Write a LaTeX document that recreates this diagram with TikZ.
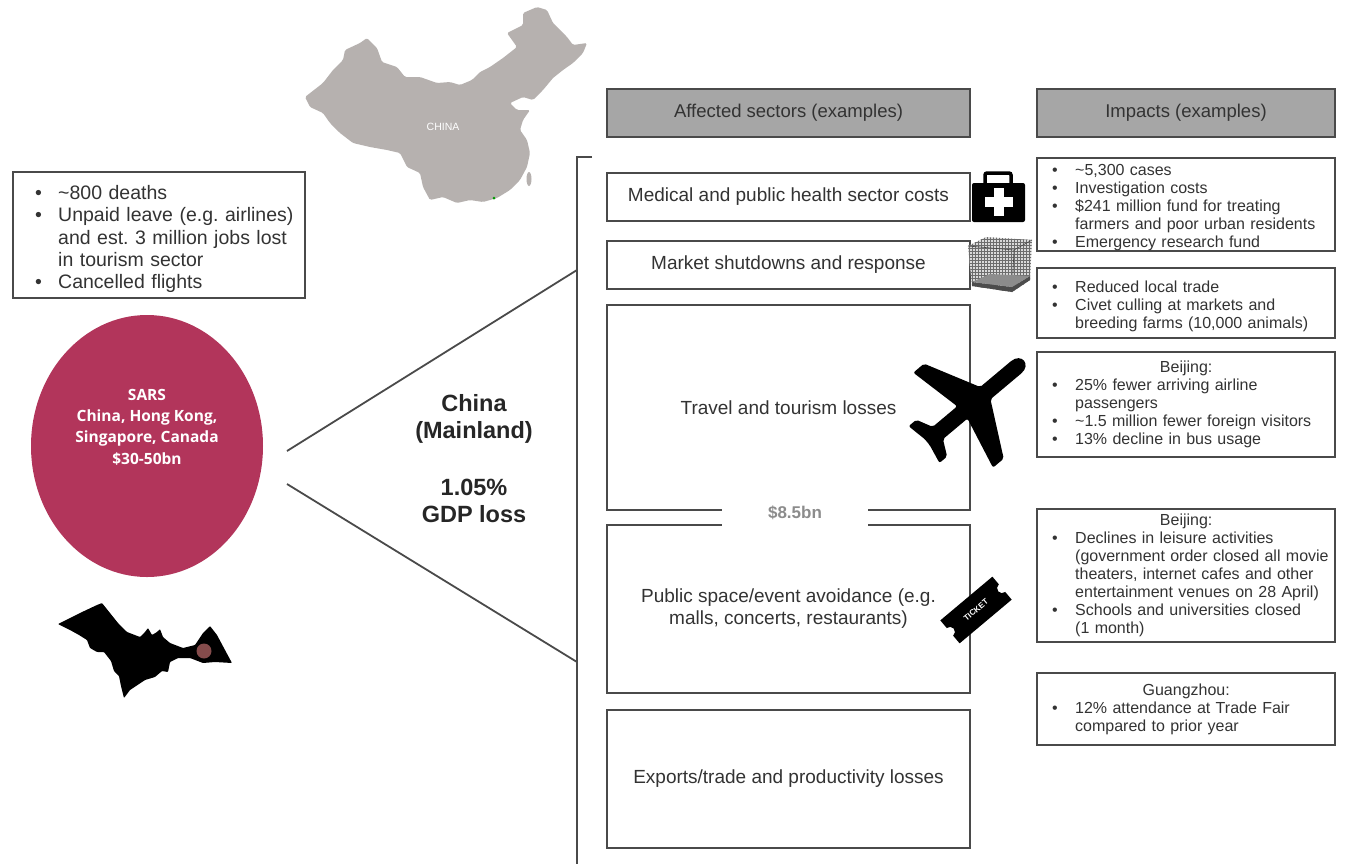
\documentclass[tikz,border=0pt]{standalone}
\usepackage{fontspec}
\setmainfont{Liberation Sans}
\newfontfamily\ovalfont{Open Sans}
\usetikzlibrary{shapes.geometric,patterns}

\definecolor{ink}{HTML}{333333}
\definecolor{rim}{HTML}{4A4A4A}
\definecolor{headfill}{HTML}{A6A6A6}
\definecolor{sars}{HTML}{B2355B}
\definecolor{landgray}{HTML}{B6B1AF}
\definecolor{costgray}{HTML}{8C8C8C}

% bullet item with hanging indent
\newcommand\bul[1]{\par\hangindent=23pt\hangafter=1\noindent\hbox to 23pt{\textbullet\hfil}#1}
% closes the last paragraph while its indentation is still in force
\newcommand\bullist[1]{\frenchspacing#1\par}

\begin{document}
\begin{tikzpicture}[x=1pt,y=-1pt,
  box/.style={draw=rim, line width=1.6pt, inner sep=0pt, text=ink},
  sector/.style={box, minimum width=363pt, align=center, font=\fontsize{19}{22}\selectfont},
  head/.style={box, fill=headfill, minimum height=48pt, font=\fontsize{18.5}{22}\selectfont},
  impact/.style={box, minimum width=298pt},
  impacttext/.style={anchor=west, inner sep=0pt, text=ink, text width=281pt, align=left, font=\fontsize{16}{18}\selectfont},
  bigword/.style={align=center, text=black!85, font=\bfseries\fontsize{23.5}{27}\selectfont},
  rule/.style={draw=rim, line width=1.8pt}
]
\useasboundingbox (0,0) rectangle (1345,863);
\fill[white] (0,0) rectangle (1345,863);

% ---- map of China ----
\fill[landgray, rounded corners=1.5pt] (305,97) -- (323,83) -- (333,70) -- (343,60) -- (345,50) -- (360,43) -- (367,38) -- (377,48) -- (382,62) -- (397,67) -- (405,77) -- (420,77) -- (437,83) -- (450,82) -- (460,85) -- (472,80) -- (480,72) -- (490,67) -- (503,58) -- (517,47) -- (507,33) -- (523,25) -- (523,13) -- (537,7) -- (547,10) -- (553,23) -- (567,37) -- (573,45) -- (587,43) -- (583,53) -- (573,63) -- (563,70) -- (553,78) -- (543,90) -- (533,100) -- (523,97) -- (510,103) -- (517,110) -- (530,110) -- (523,120) -- (520,130) -- (527,140) -- (530,153) -- (527,167) -- (520,180) -- (510,190) -- (497,198) -- (483,202) -- (470,200) -- (457,203) -- (443,197) -- (430,200) -- (423,187) -- (420,173) -- (407,167) -- (400,153) -- (387,150) -- (370,147) -- (353,143) -- (340,133) -- (330,123) -- (323,113) -- (310,107) -- cycle;
\fill[landgray] (529,179) ellipse (2.5 and 7);
\fill[green!60!black] (494,198) circle (1.5);
\node[white, font=\fontsize{10.5}{12}\selectfont] (chinaword) at (443,127) {CHINA};

% ---- left side ----
\node[box, minimum width=292pt, minimum height=126pt] (tollbox) at (159,235) {};
\node[impacttext, text width=268pt, font=\fontsize{19.5}{22.25}\selectfont] (tolltext) at (35,235)
  {\bullist{\bul{\textasciitilde800 deaths}\bul{Unpaid leave (e.g. airlines)\break and est. 3 million jobs lost\break in tourism sector}\bul{Cancelled flights}}};

\node[ellipse, fill=sars, minimum width=232pt, minimum height=262pt, inner sep=0pt] (sars) at (147,446) {};
\node[white, align=center, font=\ovalfont\bfseries\fontsize{15.5}{21.3}\selectfont] (sarstext) at (147,427)
  {SARS\\China, Hong Kong,\\Singapore, Canada\\\$30-50bn};

% bat
\fill[black, rounded corners=0.8pt] (58,624) -- (80,613) -- (97,605) -- (102,603) -- (110,613) -- (118,623) -- (127,632) -- (140,637) -- (145,632) -- (148,628) -- (152,635) -- (157,632) -- (160,629) -- (163,637) -- (170,643) -- (183,648) -- (195,645) -- (203,633) -- (210,626) -- (217,635) -- (225,650) -- (232,663) -- (215,662) -- (203,663) -- (190,658) -- (178,658) -- (170,662) -- (168,672) -- (162,671) -- (155,677) -- (145,680) -- (130,690) -- (124,698) -- (121,686) -- (119,676) -- (114,671) -- (111,661) -- (104,652) -- (97,652) -- (90,648) -- (87,640) -- (79,635) -- (70,630) -- cycle;
\fill[black!45!red!40!gray] (204,651) circle (7.5);

% ---- fan from the oval to the sector column ----
\coordinate (fanA) at (287,451);
\coordinate (fanB) at (287,484);
\coordinate (hitA) at (577,270);
\coordinate (hitB) at (577,662);
\coordinate (brtop) at (592,157);
\coordinate (brcorner) at (577,157);
\coordinate (brbot) at (577,866);
\draw[rule] (fanA) -- (hitA);
\draw[rule] (fanB) -- (hitB);
\draw[rule] (brtop) -- (brcorner) -- (brbot);

\node[bigword] (mainland) at (474,419) {China\\(Mainland)};
\node[bigword] (gdp) at (474,501) {1.05\%\\GDP loss};

% ---- headers ----
\node[head, minimum width=363pt] (secthead) at (788.5,113) {Affected sectors (examples)};
\node[head, minimum width=298pt] (imphead) at (1186,113) {Impacts (examples)};

% ---- sectors ----
\node[sector, minimum height=48pt] (medical) at (788.5,197) {Medical and public health sector costs};
\node[sector, minimum height=48pt] (market) at (788.5,265) {Market shutdowns and response};
\node[sector, minimum height=205pt] (travel) at (788.5,407.5) {Travel and tourism losses};
\node[sector, minimum height=168pt] (public) at (788.5,609) {Public space/event avoidance (e.g.\\malls, concerts, restaurants)};
\node[sector, minimum height=138pt] (exports) at (788.5,779) {Exports/trade and productivity losses};
\node[fill=white, minimum width=146pt, minimum height=26pt, inner sep=0pt, text=costgray, font=\bfseries\fontsize{17}{20}\selectfont] (cost) at (795,513) {\$8.5bn};

% ---- impacts ----
\node[impact, minimum height=93pt] (imp1) at (1186,204.5) {};
\node[impacttext] (imp1t) at (1052,204.5)
  {\bullist{\bul{\textasciitilde5,300 cases}\bul{Investigation costs}\bul{\$241 million fund for treating\break farmers and poor urban residents}\bul{Emergency research fund}}};
\node[impact, minimum height=70pt] (imp2) at (1186,303) {};
\node[impacttext] (imp2t) at (1052,303)
  {\bullist{\bul{Reduced local trade}\bul{Civet culling at markets and\break breeding farms (10,000 animals)}}};
\node[impact, minimum height=105pt] (imp3) at (1186,404.5) {};
\node[impacttext] (imp3t) at (1052,404.5)
  {\bullist{\hbox to 268pt{\hfil Beijing:\hfil}\bul{25\% fewer arriving airline\break passengers}\bul{\textasciitilde1.5 million fewer foreign visitors}\bul{13\% decline in bus usage}}};
\node[impact, minimum height=133pt] (imp4) at (1186,575.5) {};
\node[impacttext] (imp4t) at (1052,575.5)
  {\bullist{\hbox to 268pt{\hfil Beijing:\hfil}\bul{Declines in leisure activities\break (government order closed all movie\break theaters, internet cafes and other\break entertainment venues on 28 April)}\bul{Schools and universities closed\break (1 month)}}};
\node[impact, minimum height=72pt] (imp5) at (1186,709) {};
\node[impacttext] (imp5t) at (1052,709)
  {\bullist{\hbox to 268pt{\hfil Guangzhou:\hfil}\bul{12\% attendance at Trade Fair\break compared to prior year}}};

% ---- icons ----
% first-aid kit
\draw[black, line width=3.5pt, rounded corners=2pt] (985,186) -- (985,173) -- (1011,173) -- (1011,186);
\fill[black, rounded corners=2pt] (972,183) rectangle (1025,222);
\fill[white] (994,188) rectangle (1004,216);
\fill[white] (985,197) rectangle (1013,207);

% wire crate
\fill[gray!30] (968,246) -- (986,237) -- (1032,240) -- (1030,280) -- (1012,292) -- (972,286) -- cycle;
\fill[pattern=grid, pattern color=gray!85!black] (968,246) -- (986,237) -- (1032,240) -- (1030,280) -- (1012,292) -- (972,286) -- cycle;
\draw[gray!55!black, line width=0.6pt] (968,246) -- (1014,250) -- (1032,240) (1014,250) -- (1012,292);
\fill[black!70] (972,282) -- (1012,287) -- (1030,276) -- (1030,280) -- (1012,292) -- (972,286) -- cycle;
\fill[black!45] (972,282) -- (990,274) -- (1030,276) -- (1012,287) -- cycle;

% airplane
\begin{scope}[shift={(970,406)}, rotate=40]
\fill[black, rounded corners=2pt] (58,-8) .. controls (74,-8) and (74,8) .. (58,8) -- (20,8) -- (-8,62) -- (-22,62) -- (-10,8) -- (-42,8) -- (-50,24) -- (-60,24) -- (-56,4) -- (-56,-4) -- (-60,-24) -- (-50,-24) -- (-42,-8) -- (-10,-8) -- (-22,-62) -- (-8,-62) -- (20,-8) -- cycle;
\end{scope}

% ticket
\begin{scope}[shift={(976,610)}, rotate=40]
\fill[black] (-34,-15) -- (34,-15) -- (34,-5) arc[start angle=-90, end angle=-270, radius=5] -- (34,15) -- (-34,15) -- (-34,5) arc[start angle=90, end angle=-90, radius=5] -- cycle;
\node[white, transform shape, font=\bfseries\fontsize{8}{9}\selectfont] (ticketword) at (0,0) {TICKET};
\end{scope}
\end{tikzpicture}
\end{document}
